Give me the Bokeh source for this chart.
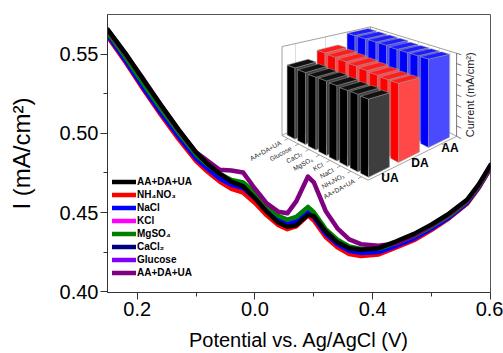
import math
from bokeh.plotting import figure
from bokeh.models import (Range1d, FixedTicker, Legend, LegendItem,
                          PrintfTickFormatter)
from bokeh.embed import file_html
from bokeh.resources import INLINE
from bokeh.core.properties import value

# ---------------- data (main DPV curves) ----------------
potential = [-0.05, -0.02, 0.01, 0.04, 0.07, 0.10, 0.12, 0.14, 0.16, 0.18,
             0.20, 0.22, 0.24, 0.255, 0.27, 0.29, 0.30, 0.32, 0.34, 0.36,
             0.38, 0.41, 0.44, 0.47, 0.50, 0.53, 0.56, 0.58, 0.60]

aa_da_ua = [0.5655, 0.5505, 0.5340, 0.5180, 0.5025, 0.4880, 0.4805, 0.4745, 0.4695, 0.4665,
            0.4590, 0.4505, 0.4435, 0.4410, 0.4420, 0.4485, 0.4478, 0.4380, 0.4312, 0.4275,
            0.4265, 0.4275, 0.4318, 0.4365, 0.4425, 0.4495, 0.4580, 0.4678, 0.4800]
nh4no3 = [0.5610, 0.5450, 0.5280, 0.5118, 0.4965, 0.4825, 0.4755, 0.4695, 0.4650, 0.4625,
          0.4560, 0.4482, 0.4420, 0.4395, 0.4412, 0.4482, 0.4450, 0.4345, 0.4280, 0.4238,
          0.4225, 0.4235, 0.4280, 0.4325, 0.4390, 0.4465, 0.4555, 0.4655, 0.4779]
nacl = [0.5620, 0.5460, 0.5290, 0.5130, 0.4980, 0.4840, 0.4775, 0.4715, 0.4675, 0.4655,
        0.4590, 0.4512, 0.4450, 0.4425, 0.4440, 0.4502, 0.4470, 0.4365, 0.4300, 0.4258,
        0.4245, 0.4250, 0.4290, 0.4335, 0.4398, 0.4470, 0.4560, 0.4660, 0.4784]
kcl = [0.5612, 0.5453, 0.5283, 0.5122, 0.4970, 0.4831, 0.4762, 0.4703, 0.4660, 0.4636,
       0.4572, 0.4494, 0.4433, 0.4408, 0.4425, 0.4492, 0.4460, 0.4355, 0.4290, 0.4248,
       0.4235, 0.4243, 0.4285, 0.4330, 0.4394, 0.4468, 0.4557, 0.4657, 0.4781]
mgso4 = [0.5635, 0.5480, 0.5315, 0.5155, 0.5005, 0.4865, 0.4800, 0.4745, 0.4705, 0.4690,
         0.4622, 0.4542, 0.4478, 0.4455, 0.4472, 0.4535, 0.4502, 0.4395, 0.4328, 0.4285,
         0.4270, 0.4272, 0.4308, 0.4352, 0.4412, 0.4480, 0.4568, 0.4665, 0.4787]
cacl2 = [0.5625, 0.5465, 0.5295, 0.5135, 0.4985, 0.4845, 0.4778, 0.4720, 0.4680, 0.4662,
         0.4598, 0.4520, 0.4458, 0.4432, 0.4448, 0.4510, 0.4478, 0.4372, 0.4306, 0.4264,
         0.4250, 0.4255, 0.4294, 0.4340, 0.4402, 0.4474, 0.4562, 0.4662, 0.4785]
glucose = [0.5630, 0.5470, 0.5302, 0.5142, 0.4992, 0.4852, 0.4786, 0.4728, 0.4688, 0.4672,
           0.4606, 0.4528, 0.4465, 0.4440, 0.4456, 0.4518, 0.4486, 0.4380, 0.4314, 0.4272,
           0.4258, 0.4262, 0.4300, 0.4345, 0.4406, 0.4477, 0.4564, 0.4663, 0.4786]
aa_da_ua_mix = [0.5650, 0.5500, 0.5345, 0.5178, 0.5020, 0.4880, 0.4825, 0.4770, 0.4765, 0.4752,
                0.4650, 0.4558, 0.4505, 0.4495, 0.4570, 0.4727, 0.4690, 0.4510, 0.4400, 0.4330,
                0.4300, 0.4290, 0.4305, 0.4355, 0.4418, 0.4488, 0.4574, 0.4672, 0.4795]

legend_labels = ["AA+DA+UA", "NH\u2084NO\u2083", "NaCl", "KCl", "MgSO\u2084",
                 "CaCl\u2082", "Glucose", "AA+DA+UA"]
legend_colors = ["#000000", "#ff0000", "#0000ff", "#ff00ff", "#008000",
                 "#000080", "#8000ff", "#800080"]

x_ticks = [0.0, 0.2, 0.4, 0.6]
x_tick_labels = ["0.2", "0.0", "0.4", "0.6"]
x_minor = [0.1, 0.3, 0.5]
y_ticks = [0.40, 0.45, 0.50, 0.55]
y_minor = [0.425, 0.475, 0.525]

# ---------------- data (inset 3D bar chart) ----------------
inset_categories = ["AA+DA+UA", "Glucose", "CaCl\u2082", "MgSO\u2084", "KCl",
                    "NaCl", "NH\u2084NO\u2083", "AA+DA+UA"]
inset_series = ["UA", "DA", "AA"]
inset_ua = [0.79, 0.78, 0.77, 0.77, 0.76, 0.75, 0.75, 0.74]
inset_da = [0.87, 0.86, 0.85, 0.84, 0.83, 0.82, 0.81, 0.81]
inset_aa = [1.00, 1.00, 1.00, 1.00, 0.99, 0.99, 0.99, 0.99]
inset_values = [inset_ua, inset_da, inset_aa]
inset_face_colors = [("#000000", "#3e3e3e", "#111111"),
                     ("#ff0000", "#ff4848", "#ff1c1c"),
                     ("#0000ff", "#4a4aff", "#1c1cff")]

FONT = "Liberation Sans"

p = figure(width=503, height=353, output_backend="svg", toolbar_location=None,
           x_range=Range1d(-0.0505, 0.60), y_range=Range1d(0.3995, 0.575),
           min_border_left=107, min_border_right=13, min_border_top=14,
           min_border_bottom=59)
p.extra_x_ranges = {"ix": Range1d(107, 490)}
p.extra_y_ranges = {"iy": Range1d(294, 14)}
p.xgrid.visible = False
p.ygrid.visible = False
p.outline_line_color = "#555555"
p.outline_line_width = 1
p.background_fill_color = "white"
p.border_fill_color = "white"

for ax in (p.xaxis[0], p.yaxis[0]):
    ax.axis_line_color = "#333333"
    ax.major_tick_line_color = "#333333"
    ax.minor_tick_line_color = "#333333"
    ax.major_tick_in = 0
    ax.major_tick_out = 7
    ax.minor_tick_in = 0
    ax.minor_tick_out = 4
    ax.major_label_text_font = FONT
    ax.major_label_text_font_size = "20px"
    ax.major_label_text_color = "black"
    ax.axis_label_text_font = FONT
    ax.axis_label_text_font_style = "normal"
    ax.axis_label_text_color = "black"

xa = p.xaxis[0]
xa.ticker = FixedTicker(ticks=x_ticks, minor_ticks=x_minor)
xa.major_label_overrides = {t: l for t, l in zip(x_ticks, x_tick_labels)}
xa.major_label_standoff = 2
xa.axis_label = "Potential vs. Ag/AgCl (V)"
xa.axis_label_text_font_size = "20px"
xa.axis_label_standoff = 10

ya = p.yaxis[0]
ya.ticker = FixedTicker(ticks=y_ticks, minor_ticks=y_minor)
ya.formatter = PrintfTickFormatter(format="%.2f")
ya.major_label_standoff = 2
ya.axis_label = "I (mA/cm\u00b2)"
ya.axis_label_text_font_size = "24px"
ya.axis_label_standoff = 22

# ---------------- curves ----------------
series = [aa_da_ua, nh4no3, nacl, kcl, mgso4, cacl2, glucose, aa_da_ua_mix]
draw_order = [3, 5, 6, 1, 2, 4, 7, 0]
renderers = {}
for i in draw_order:
    renderers[i] = p.line(potential, series[i], line_color=legend_colors[i],
                          line_width=4.5, line_join="round", line_cap="round")

items = [LegendItem(label=legend_labels[i], renderers=[renderers[i]]) for i in range(8)]
legend = Legend(items=items, location=(5, 13), orientation="vertical",
                background_fill_alpha=0, border_line_alpha=0, padding=0, margin=0,
                spacing=0, glyph_width=24, glyph_height=13, label_height=13,
                label_standoff=1, label_text_font=FONT, label_text_font_size="10px",
                label_text_font_style="bold", label_text_color="black")
p.add_layout(legend)

# ---------------- inset (3D projection with depth-scaled heights) ----------------
OX, OY = 286.6, 135.4      # floor origin (page px)
CX, CY = 10.5, 5.5         # screen step per category
SX, SY = 30.0, -15.0       # screen step per series
ZS = 83.6                  # px per unit of current at the back-right corner
KC, KS = 0.027, 0.099      # perspective growth toward the viewer
BW, BD = 0.75, 0.7         # bar width / depth (in category / series units)
C0, C1, S0, S1, HB = -0.2, 8.0, -0.1, 2.85, 1.0


def proj(c, s, z):
    f = 1.0 - KC * (C1 - c) + KS * (S1 - s)
    return OX + CX * c + SX * s, OY + CY * c + SY * s - ZS * z * f


def seg(a, b):
    (x0, y0), (x1, y1) = proj(*a), proj(*b)
    return [x0, x1], [y0, y1]


# box wireframe and gridlines
box_x, box_y = [], []
for a, b in [((C0, S0, 0), (C0, S0, HB)), ((C0, S0, HB), (C0, S1, HB)),
             ((C0, S1, 0), (C0, S1, HB)), ((C0, S1, HB), (C1, S1, HB)),
             ((C0, S0, 0), (C0, S1, 0)), ((C0, S1, 0), (C1, S1, 0)),
             ((C0, S0, 0), (C1, S0, 0)), ((C1, S0, 0), (C1, S1, 0))]:
    xs_, ys_ = seg(a, b)
    box_x.append(xs_)
    box_y.append(ys_)
grid_x, grid_y = [], []
for i in range(len(inset_categories)):
    xs_, ys_ = seg((i + BW / 2, S1, 0), (i + BW / 2, S1, HB))
    grid_x.append(xs_)
    grid_y.append(ys_)
for j in range(len(inset_series)):
    xs_, ys_ = seg((C0, j + BD / 2, 0), (C0, j + BD / 2, HB))
    grid_x.append(xs_)
    grid_y.append(ys_)
p.multi_line(grid_x, grid_y, line_color="#d0d0d0", line_width=0.7,
             x_range_name="ix", y_range_name="iy")
p.multi_line(box_x, box_y, line_color="#8a8a8a", line_width=0.8,
             x_range_name="ix", y_range_name="iy")

# floor ticks
tick_x, tick_y = [], []
for i in range(len(inset_categories)):
    xs_, ys_ = seg((i + BW / 2, S0, 0), (i + BW / 2, S0 - 0.12, 0))
    tick_x.append(xs_)
    tick_y.append(ys_)
for j in range(len(inset_series)):
    xs_, ys_ = seg((C1, j + BD / 2, 0), (C1 + 0.35, j + BD / 2, 0))
    tick_x.append(xs_)
    tick_y.append(ys_)
p.multi_line(tick_x, tick_y, line_color="#8a8a8a", line_width=0.8,
             x_range_name="ix", y_range_name="iy")

# bars (painter's order: back row first, back category first)
pxs, pys, pcol = [], [], []
for j in reversed(range(len(inset_series))):
    side_col, front_col, top_col = inset_face_colors[j]
    for i, h in enumerate(inset_values[j]):
        c0, c1, s0, s1 = i, i + BW, j, j + BD
        faces = [
            ([(c0, s0, 0), (c1, s0, 0), (c1, s0, h), (c0, s0, h)], side_col),
            ([(c1, s0, 0), (c1, s1, 0), (c1, s1, h), (c1, s0, h)], front_col),
            ([(c0, s0, h), (c1, s0, h), (c1, s1, h), (c0, s1, h)], top_col),
        ]
        for pts, col in faces:
            q = [proj(*pt) for pt in pts]
            pxs.append([a for a, _ in q])
            pys.append([b for _, b in q])
            pcol.append(col)
p.patches(xs=pxs, ys=pys, fill_color=pcol, line_color="#9c9c9c", line_width=0.5,
          x_range_name="ix", y_range_name="iy")

# vertical current axis at back-right corner
ax_x, ax_y = [], []
xs_, ys_ = seg((C1, S1, 0), (C1, S1, HB))
ax_x.append(xs_)
ax_y.append(ys_)
for k in range(9):
    z = HB * k / 8
    xs_, ys_ = seg((C1, S1, z), (C1 + 0.45, S1, z))
    ax_x.append(xs_)
    ax_y.append(ys_)
p.multi_line(ax_x, ax_y, line_color="#555555", line_width=0.8,
             x_range_name="ix", y_range_name="iy")
lx, ly = proj(C1, S1, HB / 2)
p.text(x=[lx + 13], y=[ly], text=["Current (mA/cm\u00b2)"], angle=math.pi / 2,
       text_align="center", text_baseline="middle", text_font=value(FONT),
       text_font_size=value("11px"), text_color="#222222",
       x_range_name="ix", y_range_name="iy")

# category labels
cat_pts = [proj(i + BW / 2, S0 - 0.25, 0) for i in range(len(inset_categories))]
p.text(x=[a for a, _ in cat_pts], y=[b for _, b in cat_pts], text=inset_categories,
       angle=0.5, text_align="right", text_baseline="middle",
       text_font=value(FONT), text_font_size=value("6.5px"), text_color="#222222",
       x_range_name="ix", y_range_name="iy")

# series labels
ser_pts = [proj(C1 + 0.8, j + BD / 2, 0) for j in range(len(inset_series))]
p.text(x=[a for a, _ in ser_pts], y=[b for _, b in ser_pts], text=inset_series,
       text_align="center", text_baseline="middle", text_font=value(FONT),
       text_font_size=value("12px"), text_font_style="bold", text_color="black",
       x_range_name="ix", y_range_name="iy")

open("out.html", "w").write(file_html(p, INLINE))
